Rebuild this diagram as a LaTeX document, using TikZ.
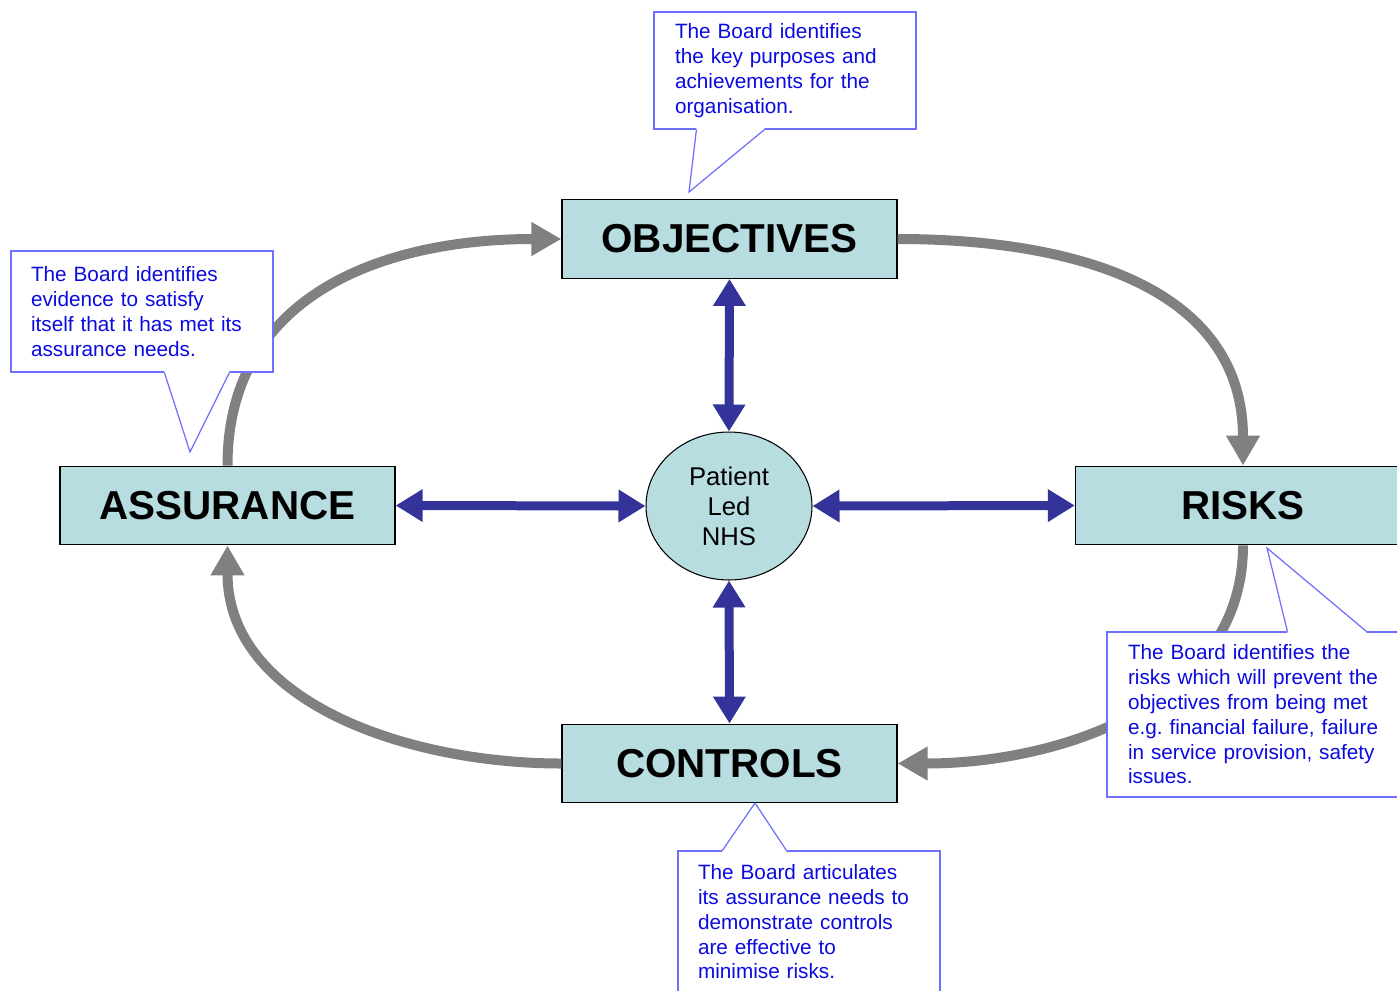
\documentclass[tikz,border=0pt]{standalone}
\usepackage{fontspec}
\setmainfont{Liberation Sans}
\usetikzlibrary{arrows.meta,calc,shapes.geometric}
\frenchspacing

\definecolor{boxteal}{RGB}{183,221,224}
\definecolor{nhsblue}{RGB}{51,51,153}
\definecolor{arcgray}{RGB}{128,128,128}
\definecolor{noteline}{RGB}{110,110,255}
\definecolor{notetext}{RGB}{10,10,225}

\tikzset{
    stage/.style={draw=black, line width=0.8pt, fill=boxteal, minimum width=6.7cm, minimum height=1.57cm,
        font=\fontsize{23}{27}\selectfont\bfseries},
    hub/.style={ellipse, draw=black, line width=0.6pt, fill=boxteal, minimum width=3.32cm, minimum height=2.96cm,
        inner sep=0pt, align=center, font=\fontsize{14.6}{17}\selectfont},
    loop arc/.style={draw=arcgray, line width=0.2cm, -{Triangle[length=0.6cm,width=0.64cm]}},
    link/.style={draw=nhsblue, line width=0.18cm, {Triangle[length=0.54cm,width=0.62cm]}-{Triangle[length=0.54cm,width=0.62cm]}},
    board note/.style={draw=noteline, line width=0.7pt, fill=white, text=notetext, align=left,
        inner ysep=0pt, font=\fontsize{11.8}{14.1}\selectfont},
    note line/.style={draw=noteline, line width=0.7pt}
}

\begin{document}
\begin{tikzpicture}[x=0.02cm, y=0.02cm]
    \useasboundingbox (0,0) rectangle (1397,-991);
    \clip (0,0) rectangle (1397,-991);

    \node[stage] (obj) at (729.5,-239) {OBJECTIVES};
    \node[stage] (assur) at (227.5,-505.5) {ASSURANCE};
    \node[stage] (risks) at (1243,-505.5) {RISKS};
    \node[stage] (ctrl) at (729.5,-763.5) {CONTROLS};
    \node[hub] (nhs) at (729,-506) {Patient\\Led\\NHS};

    \draw[loop arc] (assur.north) to[out=90,in=180,looseness=1.1] (obj.west);
    \draw[loop arc] (obj.east) to[out=0,in=90,looseness=1.1] (risks.north);
    \draw[loop arc] (risks.south) to[out=-90,in=0] (ctrl.east);
    \draw[loop arc] (ctrl.west) to[out=180,in=-90] (assur.south);

    \draw[link] (obj.south) -- (nhs.north);
    \draw[link] (assur.east) -- (nhs.west);
    \draw[link] (nhs.east) -- (risks.west);
    \draw[link] (nhs.south) -- (ctrl.north);

    \node[board note, text width=4.4cm, inner xsep=0.42cm, minimum width=5.24cm, minimum height=2.34cm] (cobj) at (785,-70.5)
        {The Board identifies\\the key purposes and\\achievements for the\\organisation.};
    \node[board note, text width=4.44cm, inner xsep=0.4cm, minimum width=5.24cm, minimum height=2.42cm] (cass) at (142,-311.5)
        {The Board identifies\\evidence to satisfy\\itself that it has met its\\assurance needs.};
    \node[board note, text width=5.42cm, inner xsep=0.42cm, minimum width=6.26cm, minimum height=3.3cm] (crisk) at (1263.5,-714.5)
        {The Board identifies the\\risks which will prevent the\\objectives from being met\\e.g. financial failure, failure\\in service provision, safety\\issues.};
    \node[board note, text width=4.44cm, inner xsep=0.4cm, minimum width=5.24cm, minimum height=2.84cm] (cctrl) at (809,-922)
        {The Board articulates\\its assurance needs to\\demonstrate controls\\are effective to\\minimise risks.};

    \coordinate (tobj) at (689,-192);
    \coordinate (tass) at (190,-452);
    \coordinate (trisk) at (1267,-548);
    \coordinate (tctrl) at (755,-803);

    \foreach \n/\a/\p/\q/\t/\s in {cobj/south west/43/111/tobj/2, cass/south west/154/219/tass/2,
                                  crisk/north west/181/260/trisk/-2, cctrl/north west/45/109/tctrl/-2} {
        \fill[white] ($(\n.\a)+(\p,\s)$) -- ($(\n.\a)+(\p,0)$) -- (\t) -- ($(\n.\a)+(\q,0)$) -- ($(\n.\a)+(\q,\s)$) -- cycle;
        \draw[note line] ($(\n.\a)+(\p,0)$) -- (\t) -- ($(\n.\a)+(\q,0)$);
    }
\end{tikzpicture}
\end{document}
